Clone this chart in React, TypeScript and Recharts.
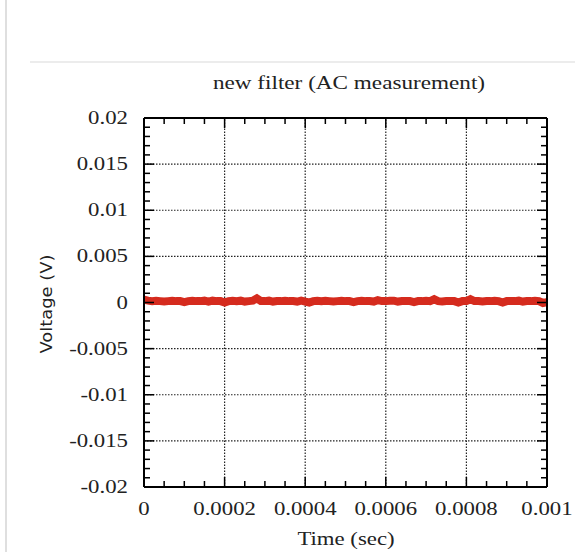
import { Line, LineChart, ReferenceLine, XAxis, YAxis } from 'recharts'

// time axis (sec)
const xTicks = [0, 0.0002, 0.0004, 0.0006, 0.0008, 0.001]
const xTickLabels = ['0', '0.0002', '0.0004', '0.0006', '0.0008', '0.001']
// voltage axis (V)
const yTicks = [-0.02, -0.015, -0.01, -0.005, 0, 0.005, 0.01, 0.015, 0.02]
const yTickLabels = ['-0.02', '-0.015', '-0.01', '-0.005', '0', '0.005', '0.01', '0.015', '0.02']

// sampled noise, one sample every 10 us, in mV
const sampleStep = 0.00001
const noiseMv = [
  0.3, 0.2, 0.15, 0.2, 0.15, 0.1, 0.15, 0.2, 0.15, 0.15,
  0.05, 0.15, 0.2, 0.15, 0.15, 0.2, 0.1, 0.2, 0.15, 0.15,
  0.0, 0.15, 0.2, 0.15, 0.2, 0.1, 0.15, 0.2, 0.45, 0.15,
  0.15, 0.2, 0.1, 0.15, 0.15, 0.2, 0.15, 0.15, 0.1, 0.2,
  0.1, 0.0, 0.15, 0.2, 0.15, 0.2, 0.15, 0.1, 0.15, 0.2,
  0.15, 0.15, 0.05, 0.15, 0.2, 0.15, 0.15, 0.1, 0.25, 0.15,
  0.15, 0.2, 0.2, 0.1, 0.15, 0.15, 0.15, 0.05, 0.15, 0.15,
  0.2, 0.15, 0.35, 0.15, 0.1, 0.15, 0.15, 0.15, 0.0, 0.15,
  0.15, 0.35, 0.15, 0.15, 0.1, 0.15, 0.15, 0.2, 0.15, 0.0,
  0.15, 0.15, 0.15, 0.2, 0.1, 0.15, 0.15, 0.2, 0.15, -0.05,
  0.05,
]

const data = noiseMv.map((v, i) => ({ t: i * sampleStep, v: v / 1000 }))

const L = 144
const R = 547
const T = 118
const B = 487
const W = 575
const H = 552

const xMinor: number[] = []
for (let i = 1; i < 20; i++) if (i % 4 !== 0) xMinor.push(i * 0.00005)
const yMinor: number[] = []
for (let i = -19; i < 20; i++) if (i % 5 !== 0) yMinor.push(i * 0.001)

const near = (a: number, b: number) => Math.abs(a - b) < 1e-12
const labelOf = (ticks: number[], labels: string[], v: number) => {
  const i = ticks.findIndex((t) => near(t, v))
  return i >= 0 ? labels[i] : null
}

const font = '"Liberation Serif", "Times New Roman", serif'

function BottomTick({ x, payload }: any) {
  const label = labelOf(xTicks, xTickLabels, payload.value)
  const len = label ? 10 : 6
  return (
    <g>
      <line x1={x} x2={x} y1={B} y2={B - len} stroke="#000" strokeWidth={1.5} />
      {label && (
        <text transform={`translate(${x},515) scale(1.2,1)`} textAnchor="middle" fontFamily={font} fontSize={19} fill="#222">
          {label}
        </text>
      )}
    </g>
  )
}

function TopTick({ x, payload }: any) {
  const len = labelOf(xTicks, xTickLabels, payload.value) ? 10 : 6
  return <line x1={x} x2={x} y1={T} y2={T + len} stroke="#000" strokeWidth={1.5} />
}

function LeftTick({ y, payload }: any) {
  const label = labelOf(yTicks, yTickLabels, payload.value)
  const len = label ? 10 : 6
  return (
    <g>
      <line x1={L} x2={L + len} y1={y} y2={y} stroke="#000" strokeWidth={1.5} />
      {label && (
        <text transform={`translate(128,${y + 6}) scale(1.2,1)`} textAnchor="end" fontFamily={font} fontSize={19} fill="#222">
          {label}
        </text>
      )}
    </g>
  )
}

function RightTick({ y, payload }: any) {
  const len = labelOf(yTicks, yTickLabels, payload.value) ? 10 : 6
  return <line x1={R} x2={R - len} y1={y} y2={y} stroke="#000" strokeWidth={1.5} />
}

const allX = [...xTicks, ...xMinor]
const allY = [...yTicks, ...yMinor]
const axisLine = { stroke: '#000', strokeWidth: 2 }

export default function App() {
  return (
    <div style={{ position: 'absolute', left: 0, top: 0, width: W, height: H, background: '#fff' }}>
      <LineChart width={W} height={H} data={data} margin={{ top: T - 1, right: W - R - 1, bottom: H - B - 1, left: L - 1 }}>
        <XAxis xAxisId="b" dataKey="t" type="number" domain={[0, 0.001]} ticks={allX} interval={0} height={1}
          orientation="bottom" axisLine={axisLine} tickLine={false} tick={<BottomTick />} allowDataOverflow />
        <XAxis xAxisId="t" dataKey="t" type="number" domain={[0, 0.001]} ticks={allX} interval={0} height={1}
          orientation="top" axisLine={axisLine} tickLine={false} tick={<TopTick />} allowDataOverflow />
        <YAxis yAxisId="l" type="number" domain={[-0.02, 0.02]} ticks={allY} interval={0} width={1}
          orientation="left" axisLine={axisLine} tickLine={false} tick={<LeftTick />} allowDataOverflow />
        <YAxis yAxisId="r" type="number" domain={[-0.02, 0.02]} ticks={allY} interval={0} width={1}
          orientation="right" axisLine={axisLine} tickLine={false} tick={<RightTick />} allowDataOverflow />
        {xTicks.slice(1, -1).map((t) => (
          <ReferenceLine key={'gx' + t} xAxisId="b" yAxisId="l" x={t} stroke="#222" strokeWidth={1.2} strokeDasharray="1.5 1.5" />
        ))}
        {yTicks.slice(1, -1).map((t) => (
          <ReferenceLine key={'gy' + t} xAxisId="b" yAxisId="l" y={t} stroke="#222" strokeWidth={1.2} strokeDasharray="1.5 1.5" />
        ))}
        <Line xAxisId="b" yAxisId="l" dataKey="v" type="linear" stroke="#d52b1e" strokeWidth={8} strokeLinejoin="miter"
          strokeLinecap="butt" dot={false} isAnimationActive={false} />
      </LineChart>
      <svg width={W} height={H} style={{ position: 'absolute', left: 0, top: 0, pointerEvents: 'none' }}>
        <line x1={6} x2={6} y1={0} y2={H} stroke="#d4d4d4" strokeWidth={1.5} />
        <line x1={30} x2={W} y1={62} y2={62} stroke="#e6e6e6" strokeWidth={1.5} />
        <text transform="translate(349,89) scale(1.22,1)" textAnchor="middle" fontFamily={font} fontSize={19} fill="#222">
          new filter (AC measurement)
        </text>
        <text transform="translate(346,545) scale(1.2,1)" textAnchor="middle" fontFamily={font} fontSize={19} fill="#222">
          Time (sec)
        </text>
        <text transform="translate(52,304) rotate(-90) scale(1.12,1)" textAnchor="middle" fontFamily='"DejaVu Sans", sans-serif' fontSize={16} fill="#222">
          Voltage (V)
        </text>
      </svg>
    </div>
  )
}
